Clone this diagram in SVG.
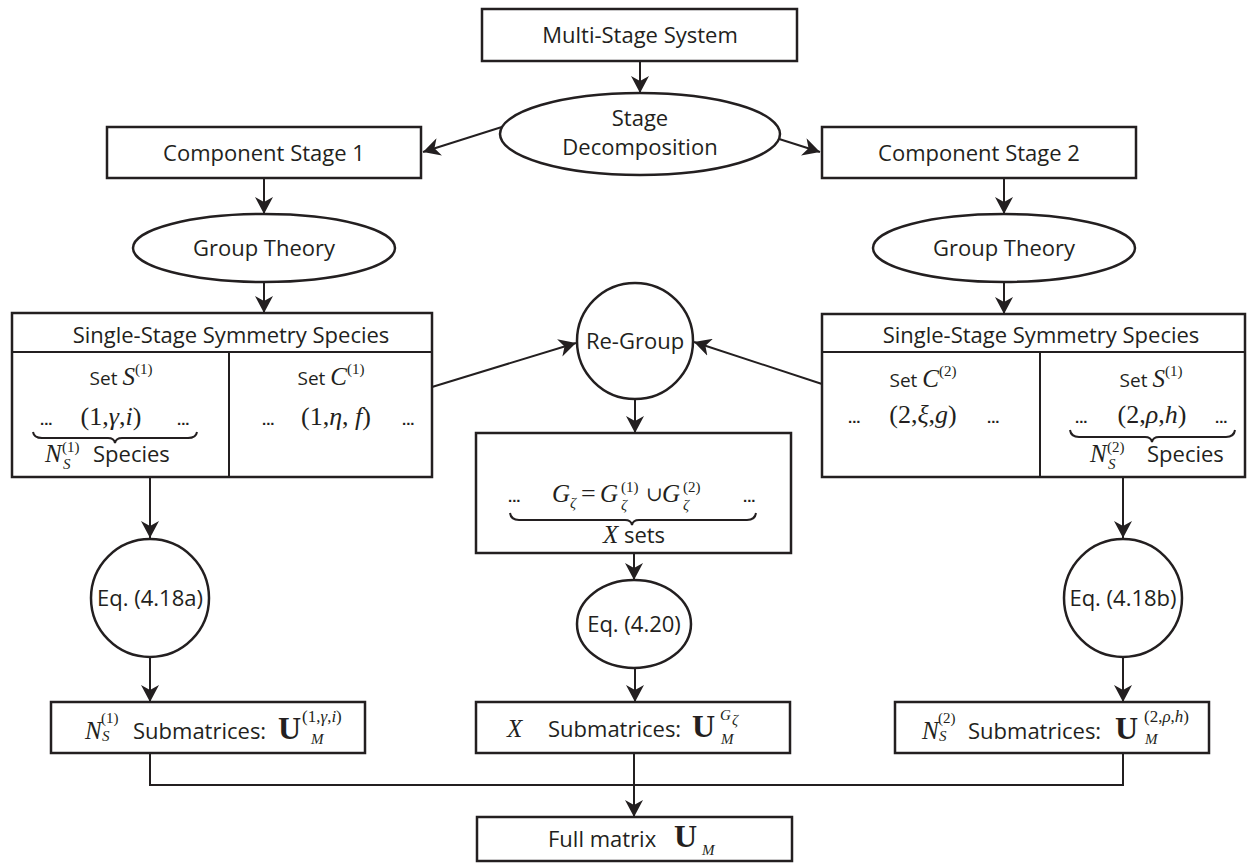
<svg xmlns="http://www.w3.org/2000/svg" width="1257" height="863" viewBox="0 0 1257 863">
<style>
.b{fill:#fff;stroke:#231f20;stroke-width:2.5}
.c{fill:none;stroke:#231f20;stroke-width:2}
text{fill:#231f20}
.s{font-family:"Open Sans","Noto Sans",sans-serif;font-size:22px}
.s19{font-family:"Open Sans","Noto Sans",sans-serif;font-size:19px}
.m{font-family:"Liberation Serif",serif;font-size:26px}
.mi{font-family:"Liberation Serif",serif;font-style:italic;font-size:25px}
.sup{font-family:"Liberation Serif",serif;font-size:15px}
.sup17{font-family:"Liberation Serif",serif;font-size:17px}
.supi{font-family:"Liberation Serif",serif;font-style:italic;font-size:15px}
.d{font-family:"Liberation Sans",sans-serif;font-size:15px;font-weight:bold}
.ub{font-family:"Liberation Serif",serif;font-weight:bold;font-size:32px}
.cup{font-family:"DejaVu Serif",serif;font-size:20px}
</style>
<defs>
<marker id="ah" viewBox="0 0 17 18" refX="17" refY="9" markerWidth="17" markerHeight="18" markerUnits="userSpaceOnUse" orient="auto">
<path d="M0,0 L17,9 L0,18 L5,9 Z" fill="#231f20"/>
</marker>
</defs>

<g id="connectors" class="c">
<line x1="640" y1="61" x2="640" y2="93" marker-end="url(#ah)"/>
<line x1="505" y1="126" x2="423" y2="152" marker-end="url(#ah)"/>
<line x1="776" y1="138" x2="820" y2="152" marker-end="url(#ah)"/>
<line x1="264" y1="178" x2="264" y2="214" marker-end="url(#ah)"/>
<line x1="1004" y1="178" x2="1004" y2="214" marker-end="url(#ah)"/>
<line x1="264" y1="282" x2="264" y2="313" marker-end="url(#ah)"/>
<line x1="1004" y1="282" x2="1004" y2="314" marker-end="url(#ah)"/>
<line x1="432" y1="387" x2="576" y2="343" marker-end="url(#ah)"/>
<line x1="822" y1="384" x2="694" y2="342" marker-end="url(#ah)"/>
<line x1="635" y1="399" x2="635" y2="433" marker-end="url(#ah)"/>
<line x1="150" y1="477" x2="150" y2="538" marker-end="url(#ah)"/>
<line x1="1123" y1="477" x2="1123" y2="538" marker-end="url(#ah)"/>
<line x1="634" y1="553" x2="634" y2="580" marker-end="url(#ah)"/>
<line x1="150" y1="657" x2="150" y2="702" marker-end="url(#ah)"/>
<line x1="1123" y1="657" x2="1123" y2="702" marker-end="url(#ah)"/>
<line x1="635" y1="668" x2="635" y2="702" marker-end="url(#ah)"/>
<polyline points="150,753 150,785 1123,785 1123,753"/>
<line x1="634" y1="753" x2="634" y2="817" marker-end="url(#ah)"/>
</g>

<g id="multi-stage">
<rect class="b" x="482" y="9" width="315" height="52"/>
<text class="s" x="640" y="43" text-anchor="middle">Multi-Stage System</text>
</g>

<g id="stage-decomposition">
<ellipse class="b" cx="640" cy="134" rx="140" ry="41"/>
<text class="s" x="640" y="126" text-anchor="middle">Stage</text>
<text class="s" x="640" y="155" text-anchor="middle">Decomposition</text>
</g>

<g id="component-stage-1">
<rect class="b" x="107" y="127" width="314" height="51"/>
<text class="s" x="264" y="161" text-anchor="middle">Component Stage 1</text>
</g>

<g id="component-stage-2">
<rect class="b" x="822" y="127" width="314" height="51"/>
<text class="s" x="979" y="161" text-anchor="middle">Component Stage 2</text>
</g>

<g id="group-theory-1">
<ellipse class="b" cx="264" cy="248" rx="131" ry="34"/>
<text class="s" x="264" y="256" text-anchor="middle">Group Theory</text>
</g>

<g id="group-theory-2">
<ellipse class="b" cx="1004" cy="248" rx="131" ry="34"/>
<text class="s" x="1004" y="256" text-anchor="middle">Group Theory</text>
</g>

<g id="species-1">
<rect class="b" x="12" y="313" width="420" height="164"/>
<line class="c" x1="12" y1="352" x2="432" y2="352"/>
<line class="c" x1="229" y1="352" x2="229" y2="477"/>
<text class="s" x="231" y="343" text-anchor="middle">Single-Stage Symmetry Species</text>
<text x="121" y="385" text-anchor="middle"><tspan class="s19">Set </tspan><tspan class="mi">S</tspan><tspan class="sup" dy="-11">(1)</tspan></text>
<text class="d" x="40" y="425">...</text>
<text class="m" x="111" y="425" text-anchor="middle">(1,<tspan font-style="italic">γ</tspan>,<tspan font-style="italic">i</tspan>)</text>
<text class="d" x="177" y="425">...</text>
<path class="c" d="M33,432 Q34,438 42,438 L108,438 Q114,438 115,443 Q116,438 122,438 L188,438 Q196,438 197,432"/>
<text class="mi" x="45" y="462">N</text>
<text class="sup" x="62" y="452">(1)</text>
<text class="supi" x="63" y="469">S</text>
<text class="s" x="93" y="462">Species</text>
<text x="331" y="385" text-anchor="middle"><tspan class="s19">Set </tspan><tspan class="mi">C</tspan><tspan class="sup" dy="-11">(1)</tspan></text>
<text class="d" x="262" y="425">...</text>
<text class="m" x="336" y="425" text-anchor="middle">(1,<tspan font-style="italic">η</tspan>,<tspan font-style="italic"> f</tspan>)</text>
<text class="d" x="402" y="425">...</text>
</g>

<g id="species-2">
<rect class="b" x="822" y="314" width="423" height="163"/>
<line class="c" x1="822" y1="352" x2="1245" y2="352"/>
<line class="c" x1="1040" y1="352" x2="1040" y2="477"/>
<text class="s" x="1041" y="343" text-anchor="middle">Single-Stage Symmetry Species</text>
<text x="923" y="387" text-anchor="middle"><tspan class="s19">Set </tspan><tspan class="mi">C</tspan><tspan class="sup" dy="-11">(2)</tspan></text>
<text class="d" x="848" y="423">...</text>
<text class="m" x="923" y="423" text-anchor="middle">(2,<tspan font-style="italic">ξ</tspan>,<tspan font-style="italic">g</tspan>)</text>
<text class="d" x="987" y="423">...</text>
<text x="1151" y="387" text-anchor="middle"><tspan class="s19">Set </tspan><tspan class="mi">S</tspan><tspan class="sup" dy="-11">(1)</tspan></text>
<text class="d" x="1075" y="423">...</text>
<text class="m" x="1152" y="423" text-anchor="middle">(2,<tspan font-style="italic">ρ</tspan>,<tspan font-style="italic">h</tspan>)</text>
<text class="d" x="1215" y="423">...</text>
<path class="c" d="M1070,430 Q1071,437 1079,437 L1145,437 Q1151,437 1152,442 Q1153,437 1159,437 L1226,437 Q1234,437 1235,430"/>
<text class="mi" x="1090" y="462">N</text>
<text class="sup" x="1107" y="452">(2)</text>
<text class="supi" x="1108" y="469">S</text>
<text class="s" x="1147" y="462">Species</text>
</g>

<g id="re-group">
<circle class="b" cx="635" cy="341" r="58"/>
<text class="s" x="635" y="349" text-anchor="middle">Re-Group</text>
</g>

<g id="x-sets">
<rect class="b" x="476" y="433" width="315" height="120"/>
<text class="d" x="508" y="502">...</text>
<text class="mi" x="552" y="502">G</text>
<text class="supi" x="570" y="508">ζ</text>
<text class="m" x="581" y="502">=</text>
<text class="mi" x="600" y="502">G</text>
<text class="sup" x="621" y="492">(1)</text>
<text class="supi" x="621" y="510">ζ</text>
<text class="cup" x="646" y="501">∪</text>
<text class="mi" x="662" y="502">G</text>
<text class="sup" x="683" y="492">(2)</text>
<text class="supi" x="683" y="510">ζ</text>
<text class="d" x="743" y="502">...</text>
<path class="c" d="M510,513 Q511,520 519,520 L625,520 Q631,520 632,525 Q633,520 639,520 L747,520 Q755,520 756,513"/>
<text x="634" y="543" text-anchor="middle"><tspan class="mi">X</tspan><tspan class="s"> sets</tspan></text>
</g>

<g id="eq-418a">
<circle class="b" cx="150" cy="598" r="59"/>
<text class="s" x="150" y="606" text-anchor="middle">Eq. (4.18a)</text>
</g>

<g id="eq-418b">
<circle class="b" cx="1123" cy="598" r="59"/>
<text class="s" x="1123" y="606" text-anchor="middle">Eq. (4.18b)</text>
</g>

<g id="eq-420">
<ellipse class="b" cx="634" cy="624" rx="57" ry="44"/>
<text class="s" x="634" y="632" text-anchor="middle">Eq. (4.20)</text>
</g>

<g id="submatrices-1">
<rect class="b" x="51" y="702" width="314" height="51"/>
<text class="mi" x="85" y="739">N</text>
<text class="sup" x="101" y="723">(1)</text>
<text class="supi" x="102" y="741">S</text>
<text class="s" x="133" y="739">Submatrices:</text>
<text class="ub" x="278" y="739">U</text>
<text class="sup17" x="302" y="722">(1,<tspan font-style="italic">γ</tspan>,<tspan font-style="italic">i</tspan>)</text>
<text class="supi" x="311" y="744">M</text>
</g>

<g id="submatrices-x">
<rect class="b" x="476" y="702" width="314" height="51"/>
<text class="mi" x="507" y="737">X</text>
<text class="s" x="548" y="737">Submatrices:</text>
<text class="ub" x="692" y="737">U</text>
<text class="supi" x="720" y="720" font-size="17">G</text>
<text class="supi" x="732" y="725" font-size="11">ζ</text>
<text class="supi" x="721" y="744">M</text>
</g>

<g id="submatrices-2">
<rect class="b" x="895" y="702" width="314" height="51"/>
<text class="mi" x="922" y="739">N</text>
<text class="sup" x="938" y="723">(2)</text>
<text class="supi" x="939" y="741">S</text>
<text class="s" x="968" y="739">Submatrices:</text>
<text class="ub" x="1115" y="739">U</text>
<text class="sup17" x="1144" y="722">(2,<tspan font-style="italic">ρ</tspan>,<tspan font-style="italic">h</tspan>)</text>
<text class="supi" x="1145" y="744">M</text>
</g>

<g id="full-matrix">
<rect class="b" x="477" y="817" width="315" height="44"/>
<text class="s" x="548" y="847">Full matrix</text>
<text class="ub" x="674" y="847">U</text>
<text class="supi" x="702" y="855">M</text>
</g>
</svg>
